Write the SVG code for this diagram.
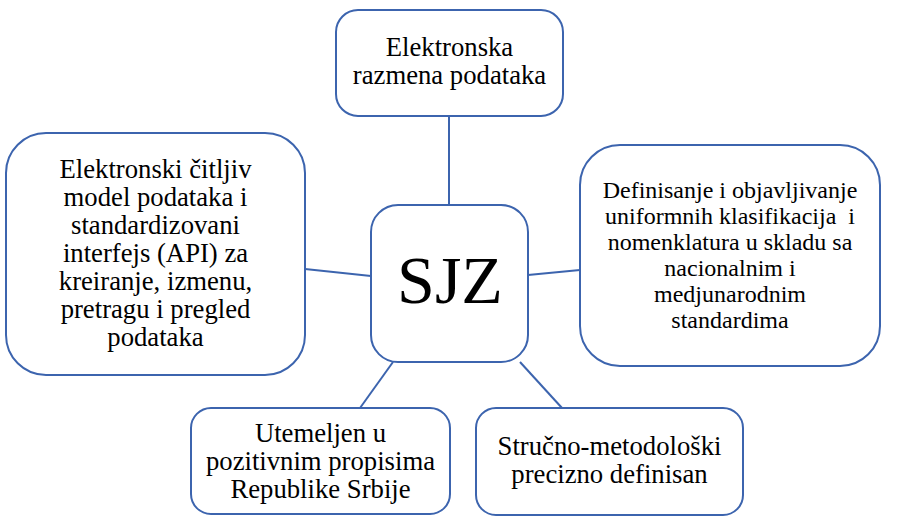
<svg xmlns="http://www.w3.org/2000/svg" width="900" height="525" viewBox="0 0 900 525">
<style>
.box{fill:#fff;stroke:#3C64AE;stroke-width:2}
.con{stroke:#3C64AE;stroke-width:2;fill:none}
text{font-family:'Liberation Serif','Times New Roman',serif;fill:#000;text-anchor:middle;white-space:pre}
.t{font-size:26.7px}
.s{font-size:24px}
.big{font-size:68px}
</style>
<rect width="900" height="525" fill="#fff"/>
<g id="connectors">
<line class="con" x1="449" y1="116" x2="449" y2="205"/>
<line class="con" x1="305" y1="269" x2="371" y2="276"/>
<line class="con" x1="528" y1="275" x2="580" y2="270"/>
<line class="con" x1="393" y1="362" x2="360" y2="408"/>
<line class="con" x1="520" y1="362" x2="562" y2="408"/>
</g>
<g id="top">
<rect class="box" x="336" y="10" width="227" height="106" rx="22"/>
<text class="t" x="449.5" y="56">Elektronska</text>
<text class="t" x="449.5" y="84">razmena podataka</text>
</g>
<g id="left">
<rect class="box" x="6" y="133" width="299" height="242" rx="40"/>
<text class="t" x="155.5" y="178">Elektronski čitljiv</text>
<text class="t" x="155.5" y="206">model podataka i</text>
<text class="t" x="155.5" y="234">standardizovani</text>
<text class="t" x="155.5" y="262">interfejs (API) za</text>
<text class="t" x="155.5" y="290">kreiranje, izmenu,</text>
<text class="t" x="155.5" y="318">pretragu i pregled</text>
<text class="t" x="155.5" y="346">podataka</text>
</g>
<g id="center">
<rect class="box" x="371" y="205" width="157" height="157" rx="27"/>
<text class="big" x="450" y="303">SJZ</text>
</g>
<g id="right">
<rect class="box" x="580" y="145" width="300" height="221" rx="40"/>
<text class="s" x="730" y="198">Definisanje i objavljivanje</text>
<text class="s" x="730" y="224">uniformnih klasifikacija  i</text>
<text class="s" x="730" y="250">nomenklatura u skladu sa</text>
<text class="s" x="730" y="276">nacionalnim i</text>
<text class="s" x="730" y="302">medjunarodnim</text>
<text class="s" x="730" y="328">standardima</text>
</g>
<g id="bottom-left">
<rect class="box" x="191" y="408" width="259" height="106" rx="20"/>
<text class="t" x="320.5" y="442">Utemeljen u</text>
<text class="t" x="320.5" y="470">pozitivnim propisima</text>
<text class="t" x="320.5" y="498">Republike Srbije</text>
</g>
<g id="bottom-right">
<rect class="box" x="476" y="408" width="267" height="107" rx="20"/>
<text class="t" x="609.5" y="455">Stručno-metodološki</text>
<text class="t" x="609.5" y="483">precizno definisan</text>
</g>
</svg>
